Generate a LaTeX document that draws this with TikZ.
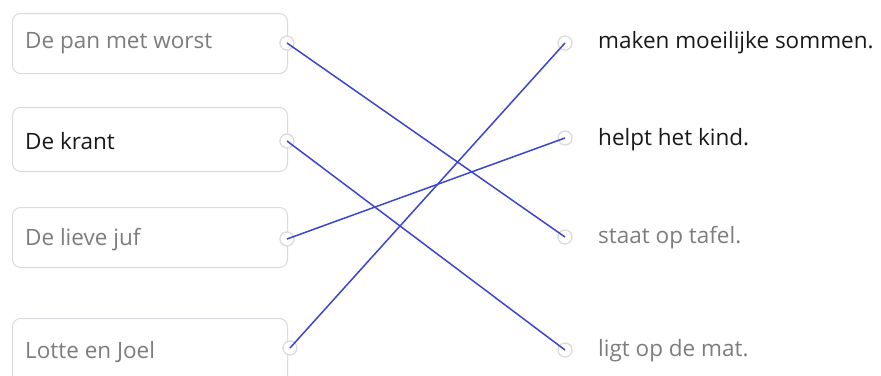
\documentclass[tikz,border=0pt]{standalone}
\usepackage{fontspec}
\setmainfont{Open Sans}
\definecolor{lineblue}{RGB}{60,70,205}
\definecolor{boxgray}{RGB}{218,218,224}
\definecolor{txtgray}{RGB}{125,125,125}
\definecolor{txtdark}{RGB}{25,25,25}
\tikzset{
  box/.style={draw=boxgray, line width=1pt, rounded corners=8pt, fill=white, minimum width=275pt, minimum height=60pt, anchor=north west},
  dot/.style={circle, draw=boxgray, line width=1.3pt, fill=white, minimum size=14pt, inner sep=0pt},
  lbl/.style={anchor=west, font=\fontsize{22.5}{25}\selectfont, inner sep=0pt},
  link/.style={draw=lineblue, line width=1.5pt},
}
\begin{document}
\begin{tikzpicture}[x=1pt,y=-1pt]
\useasboundingbox (0,0) rectangle (881,375);
% left boxes
\node[box] (b1) at (12,13) {};
\node[box, minimum height=64pt] (b2) at (12,107) {};
\node[box] (b3) at (12,207) {};
\node[box, minimum height=70pt] (b4) at (12,318) {};
\node[lbl, text=txtgray] (t1) at (25,43) {De pan met worst};
\node[lbl, text=txtdark] (t2) at (25,141) {De krant};
\node[lbl, text=txtgray] (t3) at (25,240) {De lieve juf};
\node[lbl, text=txtgray] (t4) at (25,352) {Lotte en Joel};
% right labels
\node[lbl, text=txtdark] (r1) at (598,43) {maken moeilijke sommen.};
\node[lbl, text=txtdark] (r2) at (598,140) {helpt het kind.};
\node[lbl, text=txtgray] (r3) at (598,238) {staat op tafel.};
\node[lbl, text=txtgray] (r4) at (598,351) {ligt op de mat.};
% dots
\node[dot] (l1) at (287,43) {};
\node[dot] (l2) at (287,141) {};
\node[dot] (l3) at (287,239) {};
\node[dot] (l4) at (290,348) {};
\node[dot] (d1) at (565,43) {};
\node[dot] (d2) at (565,138) {};
\node[dot] (d3) at (565,237) {};
\node[dot] (d4) at (565,350) {};
% links
\draw[link] (l1.center) -- (d3.center);
\draw[link] (l2.center) -- (d4.center);
\draw[link] (l3.center) -- (d2.center);
\draw[link] (l4.center) -- (d1.center);
\end{tikzpicture}
\end{document}
